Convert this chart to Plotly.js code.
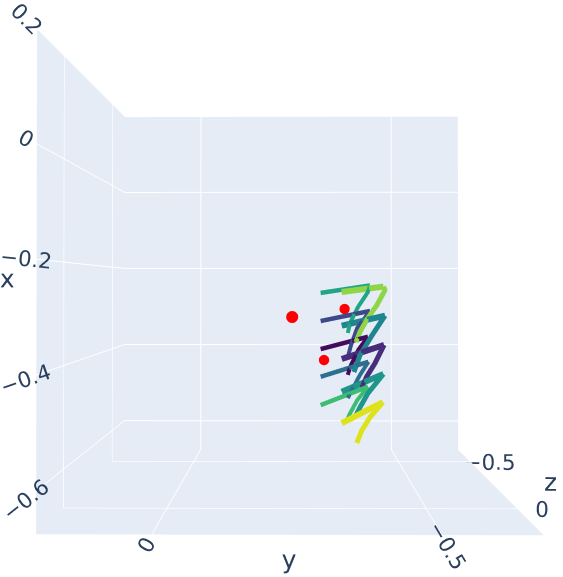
<!DOCTYPE html>
<html>
<head>
<meta charset="utf-8">
<script src="https://cdn.plot.ly/plotly-3.0.1.min.js"></script>
<style>
html,body{margin:0;padding:0;background:#fff;width:563px;height:577px;overflow:hidden}
#plot{position:absolute;left:0;top:-13px;width:581px;height:590px}
</style>
</head>
<body>
<div id="plot"></div>
<script>
// ten strands, all read off the picture, drawn on one z plane
// the first two points of each strand are the straight bar, the rest the curve
const planeZ = -0.2;
const strandColors = ['#21a585', '#8ed645', '#3e4989', '#1f858e', '#450a5c', '#472d7b', '#2e6e8e', '#1f968b', '#3dbc74', '#dde318'];
const barWidths = [9, 12, 9, 12, 9, 12, 9, 12, 9, 12];
const curveWidths = [8, 10, 8, 10, 8, 10, 8, 10, 8, 10];

const strandX = [
  [-0.261, -0.245, -0.259, -0.291, -0.325, -0.3465],
  [-0.259, -0.2475, -0.255, -0.287, -0.3145, -0.344, -0.366],
  [-0.321, -0.2995, -0.308, -0.336, -0.372, -0.398],
  [-0.331, -0.3095, -0.351, -0.394, -0.430],
  [-0.381, -0.3545, -0.383, -0.419, -0.436],
  [-0.402, -0.372, -0.411, -0.440, -0.464],
  [-0.440, -0.408, -0.436, -0.464, -0.4855],
  [-0.472, -0.434, -0.475, -0.505, -0.522],
  [-0.5005, -0.461, -0.490, -0.5175, -0.5325],
  [-0.539, -0.494, -0.526, -0.554, -0.581]
];
const strandY = [
  [-0.302, -0.4075, -0.403, -0.382, -0.365, -0.360],
  [-0.347, -0.436, -0.4395, -0.422, -0.403, -0.386, -0.3775],
  [-0.302, -0.4075, -0.401, -0.380, -0.367, -0.360],
  [-0.347, -0.4395, -0.412, -0.386, -0.373],
  [-0.302, -0.403, -0.382, -0.365, -0.360],
  [-0.347, -0.4375, -0.418, -0.400, -0.390],
  [-0.302, -0.404, -0.386, -0.371, -0.360],
  [-0.347, -0.436, -0.403, -0.386, -0.3775],
  [-0.302, -0.403, -0.380, -0.365, -0.358],
  [-0.347, -0.435, -0.4075, -0.390, -0.379]
];

const redX = [-0.312, -0.295, -0.404];
const redY = [-0.241, -0.353, -0.309];
const redZ = [-0.2, -0.2, -0.2];
const redSizes = [14, 12, 12];

function strandLine(xs, ys, color, width) {
  return {
    type: 'scatter3d',
    mode: 'lines',
    x: xs,
    y: ys,
    z: xs.map(() => planeZ),
    line: { color: color, width: width }
  };
}

const traces = [];
strandX.forEach((xs, i) => {
  traces.push(strandLine(xs.slice(1), strandY[i].slice(1), strandColors[i], curveWidths[i]));
  traces.push(strandLine(xs.slice(0, 2), strandY[i].slice(0, 2), strandColors[i], barWidths[i]));
});

traces.push({
  type: 'scatter3d',
  mode: 'markers',
  x: redX,
  y: redY,
  z: redZ,
  marker: { color: '#ff0000', size: redSizes, opacity: 1, line: { width: 0 } }
});

const axisFont = 'DejaVu Sans';

const axisStyle = (title, dtick) => ({
  title: { text: title, font: { family: axisFont, size: 25, color: '#2a3f5f' } },
  range: [-0.675, 0.2],
  autorange: false,
  dtick: dtick,
  tickfont: { family: axisFont, size: 16, color: '#2a3f5f' },
  backgroundcolor: '#E5ECF6',
  showbackground: true,
  gridcolor: 'white',
  gridwidth: 2,
  linecolor: 'white',
  zerolinecolor: 'white',
  ticks: ''
});

const layout = {
  width: 581,
  height: 590,
  showlegend: false,
  paper_bgcolor: 'white',
  margin: { l: 0, r: 0, t: 0, b: 0 },
  font: { family: axisFont, color: '#2a3f5f' },
  scene: {
    xaxis: axisStyle('x', 0.2),
    yaxis: axisStyle('y', 0.5),
    zaxis: axisStyle('z', 0.5),
    aspectmode: 'manual',
    aspectratio: { x: 1, y: 1, z: 0.734 },
    camera: {
      up: { x: 1, y: 0, z: 0 },
      center: { x: 0, y: 0, z: 0 },
      eye: { x: -0.01, y: -0.01, z: 1.771 }
    }
  }
};

Plotly.newPlot('plot', traces, layout, { displayModeBar: false });
</script>
</body>
</html>
